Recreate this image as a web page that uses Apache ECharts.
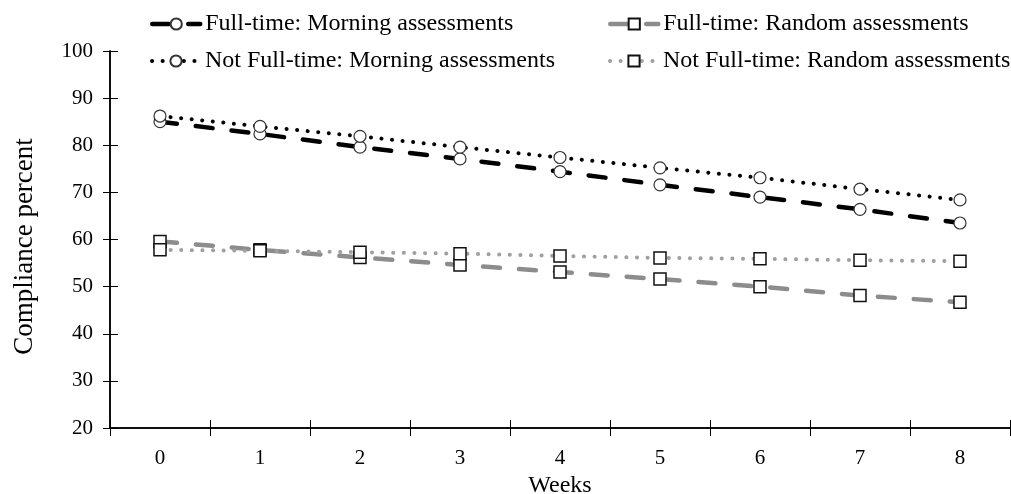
<!DOCTYPE html>
<html>
<head>
<meta charset="utf-8">
<script src="https://cdn.jsdelivr.net/npm/echarts@6/dist/echarts.min.js"></script>
<style>
  html, body { margin: 0; padding: 0; background: #fff; }
  #main { width: 1011px; height: 494px; }
</style>
</head>
<body>
<div id="main"></div>
<script>
// 周数
var weeks = ['0', '1', '2', '3', '4', '5', '6', '7', '8'];
// 各组依从率 (%)
var ftMorning = [85.0, 82.4, 79.6, 77.1, 74.4, 71.6, 69.0, 66.4, 63.5];
var ftRandom = [59.6, 57.8, 56.2, 54.6, 53.1, 51.6, 50.0, 48.1, 46.7];
var nftMorning = [86.2, 84.0, 81.9, 79.6, 77.4, 75.2, 73.1, 70.7, 68.4];
var nftRandom = [57.8, 57.6, 57.3, 57.0, 56.5, 56.1, 55.9, 55.6, 55.4];

var serif = 'Liberation Serif';
var myChart = echarts.init(document.getElementById('main'));

function legendAt(name, left, top, lineWidth) {
    return {
        data: [name],
        left: left,
        top: top,
        itemWidth: 48,
        itemHeight: 14,
        lineStyle: { width: lineWidth },
        textStyle: { fontFamily: serif, fontSize: 24, color: '#000' }
    };
}

var option = {
    animation: false,
    legend: [
        legendAt('Full-time: Morning assessments', 145, 7, 4.5),
        legendAt('Full-time: Random assessments', 603, 7, 4.5),
        legendAt('Not Full-time: Morning assessments', 145, 44, 4),
        legendAt('Not Full-time: Random assessments', 603, 44, 4)
    ],
    grid: { left: 110, right: 1, top: 51, bottom: 66, outerBoundsMode: 'none', containLabel: false },
    xAxis: [
        {
            type: 'category',
            data: weeks,
            name: 'Weeks',
            nameLocation: 'middle',
            nameGap: 45,
            nameTextStyle: { fontFamily: serif, fontSize: 24, color: '#000' },
            axisLine: { lineStyle: { color: '#000', width: 1.5 } },
            axisTick: { show: true, length: 8, lineStyle: { color: '#000' } },
            axisLabel: { fontFamily: serif, fontSize: 21, color: '#000', margin: 20 }
        },
        {
            // 向内的刻度
            type: 'category',
            data: weeks,
            position: 'bottom',
            axisLine: { lineStyle: { color: '#000', width: 1.5 } },
            axisTick: { show: true, inside: true, length: 8, lineStyle: { color: '#000' } },
            axisLabel: { show: false }
        }
    ],
    yAxis: [
        {
            type: 'value',
            min: 20,
            max: 100,
            interval: 10,
            name: 'Compliance percent',
            nameLocation: 'middle',
            nameGap: 72,
            nameTextStyle: { fontFamily: serif, fontSize: 27, color: '#000', padding: [0, 14, 0, 0] },
            splitLine: { show: false },
            axisLine: { show: true, lineStyle: { color: '#000', width: 1.5 } },
            axisTick: { show: true, length: 7, lineStyle: { color: '#000' } },
            axisLabel: { fontFamily: serif, fontSize: 21, color: '#000', margin: 17 }
        },
        {
            type: 'value',
            min: 20,
            max: 100,
            interval: 10,
            position: 'left',
            splitLine: { show: false },
            axisLine: { show: true, lineStyle: { color: '#000', width: 1.5 } },
            axisTick: { show: true, inside: true, length: 8, lineStyle: { color: '#000' } },
            axisLabel: { show: false }
        }
    ],
    series: [
        {
            name: 'Full-time: Morning assessments',
            type: 'line',
            data: ftMorning,
            symbol: 'circle',
            symbolSize: 12,
            itemStyle: { color: '#fff', borderColor: '#333', borderWidth: 1.2 },
            lineStyle: { color: '#000', width: 4.5, type: [17, 19], cap: 'round' },
            z: 3
        },
        {
            name: 'Full-time: Random assessments',
            type: 'line',
            data: ftRandom,
            symbol: 'rect',
            symbolSize: 12,
            itemStyle: { color: '#fff', borderColor: '#111', borderWidth: 1.5 },
            lineStyle: { color: '#8c8c8c', width: 4.5, type: [17, 19], cap: 'round' },
            z: 2
        },
        {
            name: 'Not Full-time: Morning assessments',
            type: 'line',
            data: nftMorning,
            symbol: 'circle',
            symbolSize: 12,
            itemStyle: { color: '#fff', borderColor: '#333', borderWidth: 1.2 },
            lineStyle: { color: '#000', width: 4, type: [0.1, 10.5], cap: 'round' },
            z: 4
        },
        {
            name: 'Not Full-time: Random assessments',
            type: 'line',
            data: nftRandom,
            symbol: 'rect',
            symbolSize: 12,
            itemStyle: { color: '#fff', borderColor: '#111', borderWidth: 1.5 },
            lineStyle: { color: '#a0a0a0', width: 4, type: [0.1, 10.5], cap: 'round' },
            z: 2
        }
    ]
};

myChart.setOption(option, true);
</script>
</body>
</html>
